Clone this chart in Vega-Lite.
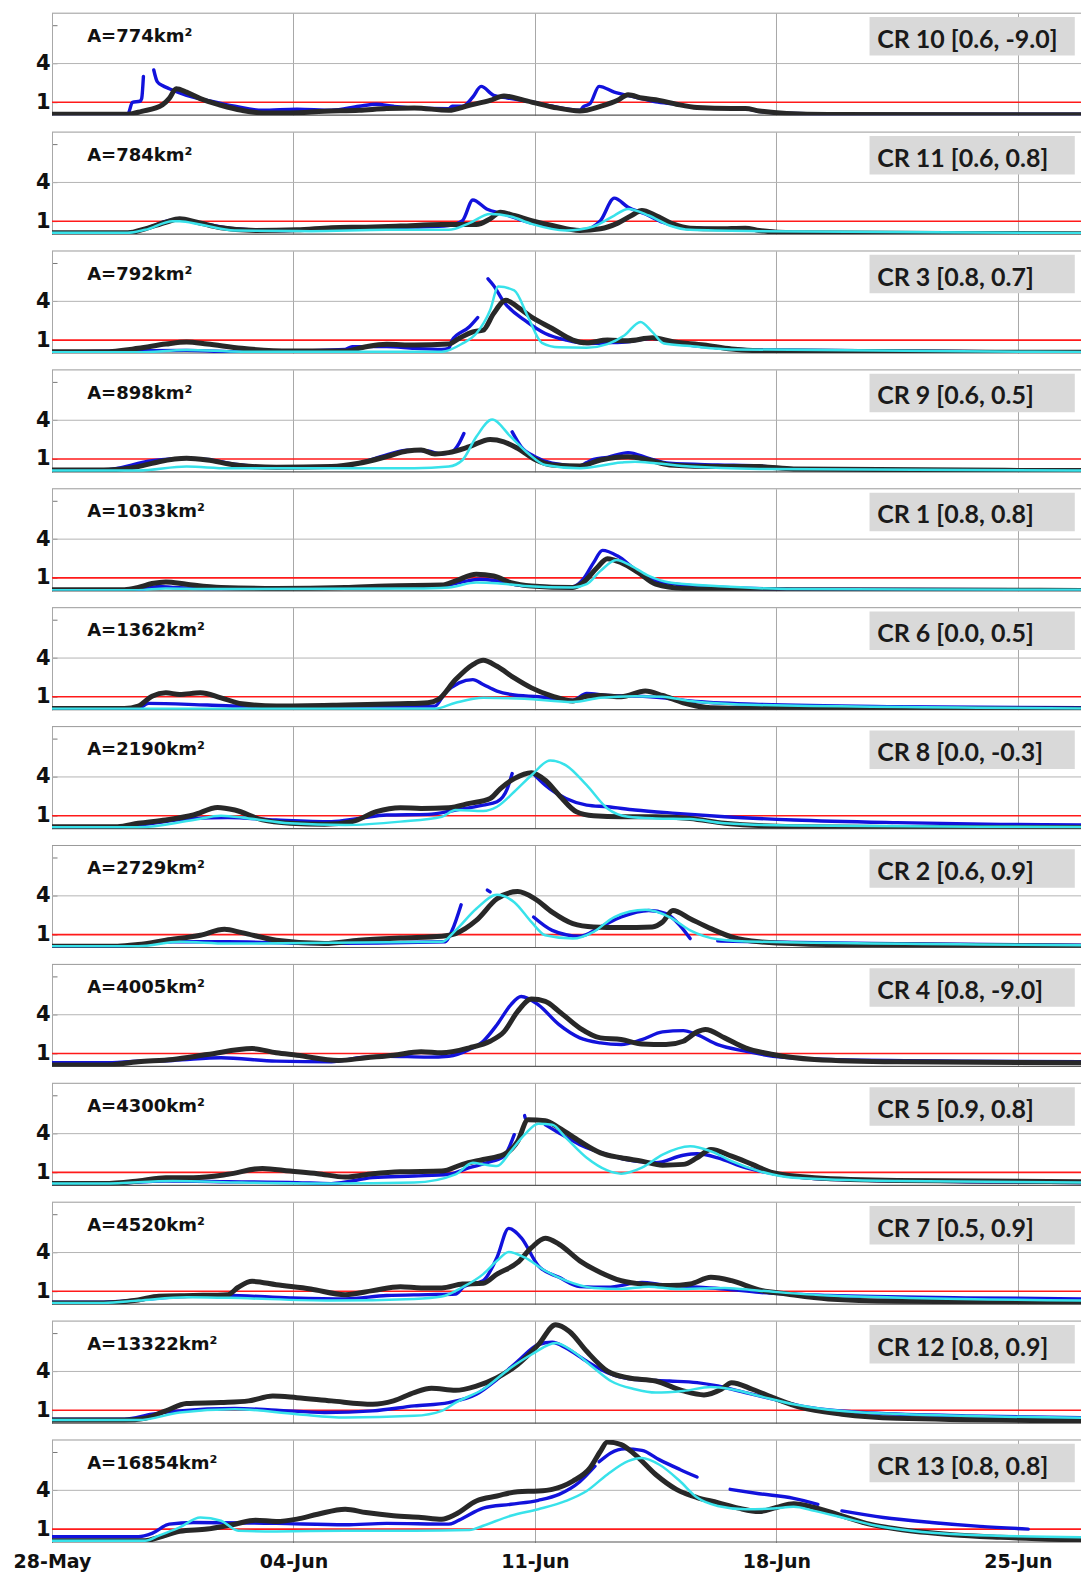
{
  "$schema": "https://vega.github.io/schema/vega-lite/v6.json",
  "background": "white",
  "bounds": "flush",
  "padding": {"left": 13, "top": 12.2, "right": 0, "bottom": 0},
  "data": {"values": [
    {"o":1,"a":"A=774km²","c":"CR 10 [0.6, -9.0]"},
    {"o":2,"a":"A=784km²","c":"CR 11 [0.6, 0.8]"},
    {"o":3,"a":"A=792km²","c":"CR 3 [0.8, 0.7]"},
    {"o":4,"a":"A=898km²","c":"CR 9 [0.6, 0.5]"},
    {"o":5,"a":"A=1033km²","c":"CR 1 [0.8, 0.8]"},
    {"o":6,"a":"A=1362km²","c":"CR 6 [0.0, 0.5]"},
    {"o":7,"a":"A=2190km²","c":"CR 8 [0.0, -0.3]"},
    {"o":8,"a":"A=2729km²","c":"CR 2 [0.6, 0.9]"},
    {"o":9,"a":"A=4005km²","c":"CR 4 [0.8, -9.0]"},
    {"o":10,"a":"A=4300km²","c":"CR 5 [0.9, 0.8]"},
    {"o":11,"a":"A=4520km²","c":"CR 7 [0.5, 0.9]"},
    {"o":12,"a":"A=13322km²","c":"CR 12 [0.8, 0.9]"},
    {"o":13,"a":"A=16854km²","c":"CR 13 [0.8, 0.8]"},

    {"o":1,"s":"k","d":0,"v":0.08},{"o":1,"s":"k","d":2.2,"v":0.08},{"o":1,"s":"k","d":2.6,"v":0.3},{"o":1,"s":"k","d":3.2,"v":0.8},{"o":1,"s":"k","d":3.4,"v":1.3},{"o":1,"s":"k","d":3.6,"v":2.05},{"o":1,"s":"k","d":3.9,"v":1.79},{"o":1,"s":"k","d":4.3,"v":1.28},{"o":1,"s":"k","d":4.9,"v":0.77},{"o":1,"s":"k","d":5.5,"v":0.38},{"o":1,"s":"k","d":6.1,"v":0.18},{"o":1,"s":"k","d":6.9,"v":0.18},{"o":1,"s":"k","d":7.9,"v":0.31},{"o":1,"s":"k","d":8.9,"v":0.38},{"o":1,"s":"k","d":9.7,"v":0.51},{"o":1,"s":"k","d":10.5,"v":0.56},{"o":1,"s":"k","d":11.5,"v":0.38},{"o":1,"s":"k","d":12.1,"v":0.77},{"o":1,"s":"k","d":12.7,"v":1.15},{"o":1,"s":"k","d":13.1,"v":1.49},{"o":1,"s":"k","d":13.7,"v":1.15},{"o":1,"s":"k","d":14.5,"v":0.64},{"o":1,"s":"k","d":15.3,"v":0.33},{"o":1,"s":"k","d":15.9,"v":0.69},{"o":1,"s":"k","d":16.4,"v":1.15},{"o":1,"s":"k","d":16.7,"v":1.59},{"o":1,"s":"k","d":17.1,"v":1.33},{"o":1,"s":"k","d":17.6,"v":1.15},{"o":1,"s":"k","d":18.1,"v":0.85},{"o":1,"s":"k","d":18.7,"v":0.59},{"o":1,"s":"k","d":19.7,"v":0.51},{"o":1,"s":"k","d":20.1,"v":0.51},{"o":1,"s":"k","d":20.5,"v":0.33},{"o":1,"s":"k","d":21.3,"v":0.13},{"o":1,"s":"k","d":22.5,"v":0.05},{"o":1,"s":"k","d":29.86,"v":0.03},
    {"o":1,"s":"b","d":0,"v":0.1},{"o":1,"s":"b","d":2.2,"v":0.1},{"o":1,"s":"b","d":2.33,"v":1.0},{"o":1,"s":"b","d":2.55,"v":1.08},{"o":1,"s":"b","d":2.6,"v":1.3},{"o":1,"s":"b","d":2.65,"v":3.0},
    {"o":1,"s":"b","g":2,"d":2.95,"v":3.5},{"o":1,"s":"b","g":2,"d":3.05,"v":2.6},{"o":1,"s":"b","g":2,"d":3.2,"v":2.3},{"o":1,"s":"b","g":2,"d":3.4,"v":2.05},{"o":1,"s":"b","g":2,"d":3.9,"v":1.54},{"o":1,"s":"b","g":2,"d":4.5,"v":1.15},{"o":1,"s":"b","g":2,"d":5.3,"v":0.69},{"o":1,"s":"b","g":2,"d":6.1,"v":0.38},{"o":1,"s":"b","g":2,"d":7.1,"v":0.46},{"o":1,"s":"b","g":2,"d":8.1,"v":0.38},{"o":1,"s":"b","g":2,"d":8.9,"v":0.69},{"o":1,"s":"b","g":2,"d":9.4,"v":0.85},{"o":1,"s":"b","g":2,"d":9.9,"v":0.69},{"o":1,"s":"b","g":2,"d":10.5,"v":0.56},{"o":1,"s":"b","g":2,"d":11.5,"v":0.51},{"o":1,"s":"b","g":2,"d":11.6,"v":0.69},{"o":1,"s":"b","g":2,"d":11.9,"v":0.69},{"o":1,"s":"b","g":2,"d":12.2,"v":1.41},{"o":1,"s":"b","g":2,"d":12.44,"v":2.23},{"o":1,"s":"b","g":2,"d":12.8,"v":1.54},{"o":1,"s":"b","g":2,"d":13.2,"v":1.33},{"o":1,"s":"b","g":2,"d":13.9,"v":1.03},{"o":1,"s":"b","g":2,"d":14.5,"v":0.69},{"o":1,"s":"b","g":2,"d":15.3,"v":0.38},{"o":1,"s":"b","g":2,"d":15.4,"v":0.64},{"o":1,"s":"b","g":2,"d":15.6,"v":0.9},{"o":1,"s":"b","g":2,"d":15.86,"v":2.23},{"o":1,"s":"b","g":2,"d":16.3,"v":1.79},{"o":1,"s":"b","g":2,"d":16.9,"v":1.41},{"o":1,"s":"b","g":2,"d":17.5,"v":1.03},{"o":1,"s":"b","g":2,"d":18.1,"v":0.85},{"o":1,"s":"b","g":2,"d":18.7,"v":0.59},{"o":1,"s":"b","g":2,"d":20.1,"v":0.51},{"o":1,"s":"b","g":2,"d":20.5,"v":0.31},{"o":1,"s":"b","g":2,"d":21.5,"v":0.13},{"o":1,"s":"b","g":2,"d":23,"v":0.08},{"o":1,"s":"b","g":2,"d":29.86,"v":0.08},

    {"o":2,"s":"k","d":0,"v":0.1},{"o":2,"s":"k","d":2.2,"v":0.1},{"o":2,"s":"k","d":2.7,"v":0.41},{"o":2,"s":"k","d":3.3,"v":0.92},{"o":2,"s":"k","d":3.7,"v":1.18},{"o":2,"s":"k","d":4.2,"v":0.92},{"o":2,"s":"k","d":4.9,"v":0.49},{"o":2,"s":"k","d":5.9,"v":0.28},{"o":2,"s":"k","d":7.1,"v":0.33},{"o":2,"s":"k","d":8.1,"v":0.49},{"o":2,"s":"k","d":9.1,"v":0.54},{"o":2,"s":"k","d":10.1,"v":0.62},{"o":2,"s":"k","d":11.3,"v":0.74},{"o":2,"s":"k","d":11.8,"v":0.74},{"o":2,"s":"k","d":12.3,"v":0.74},{"o":2,"s":"k","d":12.7,"v":1.18},{"o":2,"s":"k","d":13.0,"v":1.69},{"o":2,"s":"k","d":13.4,"v":1.44},{"o":2,"s":"k","d":13.9,"v":1.05},{"o":2,"s":"k","d":14.5,"v":0.67},{"o":2,"s":"k","d":15.3,"v":0.28},{"o":2,"s":"k","d":15.9,"v":0.41},{"o":2,"s":"k","d":16.4,"v":0.85},{"o":2,"s":"k","d":16.8,"v":1.44},{"o":2,"s":"k","d":17.1,"v":1.82},{"o":2,"s":"k","d":17.5,"v":1.44},{"o":2,"s":"k","d":18.0,"v":0.79},{"o":2,"s":"k","d":18.5,"v":0.46},{"o":2,"s":"k","d":19.3,"v":0.41},{"o":2,"s":"k","d":20.1,"v":0.46},{"o":2,"s":"k","d":20.5,"v":0.28},{"o":2,"s":"k","d":21.5,"v":0.1},{"o":2,"s":"k","d":29.86,"v":0.03},
    {"o":2,"s":"b","d":0,"v":0.1},{"o":2,"s":"b","d":2.2,"v":0.1},{"o":2,"s":"b","d":2.7,"v":0.41},{"o":2,"s":"b","d":3.4,"v":1.05},{"o":2,"s":"b","d":3.6,"v":1.13},{"o":2,"s":"b","d":4.3,"v":0.85},{"o":2,"s":"b","d":5.3,"v":0.41},{"o":2,"s":"b","d":6.5,"v":0.28},{"o":2,"s":"b","d":8.5,"v":0.41},{"o":2,"s":"b","d":10.5,"v":0.54},{"o":2,"s":"b","d":11.5,"v":0.67},{"o":2,"s":"b","d":11.9,"v":1.05},{"o":2,"s":"b","d":12.2,"v":2.64},{"o":2,"s":"b","d":12.6,"v":1.95},{"o":2,"s":"b","d":13.1,"v":1.56},{"o":2,"s":"b","d":13.7,"v":1.0},{"o":2,"s":"b","d":14.5,"v":0.54},{"o":2,"s":"b","d":15.4,"v":0.33},{"o":2,"s":"b","d":15.9,"v":1.05},{"o":2,"s":"b","d":16.3,"v":2.79},{"o":2,"s":"b","d":16.7,"v":2.08},{"o":2,"s":"b","d":17.2,"v":1.56},{"o":2,"s":"b","d":17.7,"v":0.92},{"o":2,"s":"b","d":18.3,"v":0.51},{"o":2,"s":"b","d":19.5,"v":0.41},{"o":2,"s":"b","d":20.5,"v":0.28},{"o":2,"s":"b","d":21.5,"v":0.1},{"o":2,"s":"b","d":29.86,"v":0.03},
    {"o":2,"s":"c","d":0,"v":0.1},{"o":2,"s":"c","d":2.2,"v":0.1},{"o":2,"s":"c","d":2.7,"v":0.33},{"o":2,"s":"c","d":3.5,"v":1.0},{"o":2,"s":"c","d":3.7,"v":1.0},{"o":2,"s":"c","d":4.3,"v":0.74},{"o":2,"s":"c","d":5.3,"v":0.28},{"o":2,"s":"c","d":7.5,"v":0.23},{"o":2,"s":"c","d":9.7,"v":0.33},{"o":2,"s":"c","d":11.5,"v":0.33},{"o":2,"s":"c","d":12.1,"v":0.85},{"o":2,"s":"c","d":12.7,"v":1.56},{"o":2,"s":"c","d":13.3,"v":1.36},{"o":2,"s":"c","d":13.9,"v":0.79},{"o":2,"s":"c","d":14.9,"v":0.28},{"o":2,"s":"c","d":15.7,"v":0.59},{"o":2,"s":"c","d":16.3,"v":1.44},{"o":2,"s":"c","d":16.7,"v":1.95},{"o":2,"s":"c","d":17.3,"v":1.44},{"o":2,"s":"c","d":17.9,"v":0.67},{"o":2,"s":"c","d":18.5,"v":0.33},{"o":2,"s":"c","d":20.5,"v":0.23},{"o":2,"s":"c","d":29.86,"v":0.08},

    {"o":3,"s":"k","d":0,"v":0.1},{"o":3,"s":"k","d":1.5,"v":0.1},{"o":3,"s":"k","d":2.5,"v":0.36},{"o":3,"s":"k","d":3.3,"v":0.69},{"o":3,"s":"k","d":3.9,"v":0.85},{"o":3,"s":"k","d":4.5,"v":0.69},{"o":3,"s":"k","d":5.5,"v":0.36},{"o":3,"s":"k","d":6.9,"v":0.15},{"o":3,"s":"k","d":8.5,"v":0.15},{"o":3,"s":"k","d":9.1,"v":0.49},{"o":3,"s":"k","d":9.7,"v":0.67},{"o":3,"s":"k","d":10.5,"v":0.62},{"o":3,"s":"k","d":11.5,"v":0.69},{"o":3,"s":"k","d":11.8,"v":1.13},{"o":3,"s":"k","d":12.2,"v":1.64},{"o":3,"s":"k","d":12.5,"v":1.77},{"o":3,"s":"k","d":12.8,"v":3.05},{"o":3,"s":"k","d":13.16,"v":4.08},{"o":3,"s":"k","d":13.5,"v":3.56},{"o":3,"s":"k","d":13.9,"v":2.79},{"o":3,"s":"k","d":14.5,"v":1.9},{"o":3,"s":"k","d":15.1,"v":1.0},{"o":3,"s":"k","d":15.5,"v":0.79},{"o":3,"s":"k","d":16.1,"v":1.0},{"o":3,"s":"k","d":16.7,"v":0.95},{"o":3,"s":"k","d":17.4,"v":1.18},{"o":3,"s":"k","d":18.0,"v":0.87},{"o":3,"s":"k","d":18.9,"v":0.62},{"o":3,"s":"k","d":19.7,"v":0.31},{"o":3,"s":"k","d":20.9,"v":0.15},{"o":3,"s":"k","d":29.86,"v":0.05},
    {"o":3,"s":"b","d":0,"v":0.05},{"o":3,"s":"b","d":3.9,"v":0.2},{"o":3,"s":"b","d":5.5,"v":0.08},{"o":3,"s":"b","d":8.5,"v":0.28},{"o":3,"s":"b","d":8.7,"v":0.49},{"o":3,"s":"b","d":9.7,"v":0.49},{"o":3,"s":"b","d":10.5,"v":0.36},{"o":3,"s":"b","d":11.3,"v":0.28},{"o":3,"s":"b","d":11.5,"v":0.36},{"o":3,"s":"b","d":11.6,"v":1.0},{"o":3,"s":"b","d":12.1,"v":2.03},{"o":3,"s":"b","d":12.34,"v":2.74},
    {"o":3,"s":"b","g":2,"d":12.64,"v":5.74},{"o":3,"s":"b","g":2,"d":12.8,"v":5.23},{"o":3,"s":"b","g":2,"d":13.1,"v":3.95},{"o":3,"s":"b","g":2,"d":13.7,"v":2.54},{"o":3,"s":"b","g":2,"d":14.3,"v":1.51},{"o":3,"s":"b","g":2,"d":14.9,"v":1.0},{"o":3,"s":"b","g":2,"d":15.5,"v":0.74},{"o":3,"s":"b","g":2,"d":16.1,"v":0.79},{"o":3,"s":"b","g":2,"d":16.7,"v":0.87},{"o":3,"s":"b","g":2,"d":17.4,"v":1.13},{"o":3,"s":"b","g":2,"d":18.0,"v":0.79},{"o":3,"s":"b","g":2,"d":18.9,"v":0.49},{"o":3,"s":"b","g":2,"d":20.5,"v":0.23},{"o":3,"s":"b","g":2,"d":29.86,"v":0.05},
    {"o":3,"s":"c","d":0,"v":0.05},{"o":3,"s":"c","d":2.5,"v":0.05},{"o":3,"s":"c","d":3.9,"v":0.23},{"o":3,"s":"c","d":5.5,"v":0.1},{"o":3,"s":"c","d":11.3,"v":0.1},{"o":3,"s":"c","d":11.9,"v":0.74},{"o":3,"s":"c","d":12.3,"v":1.51},{"o":3,"s":"c","d":12.7,"v":3.31},{"o":3,"s":"c","d":12.94,"v":5.15},{"o":3,"s":"c","d":13.4,"v":4.85},{"o":3,"s":"c","d":13.8,"v":2.79},{"o":3,"s":"c","d":14.2,"v":0.79},{"o":3,"s":"c","d":14.7,"v":0.44},{"o":3,"s":"c","d":15.5,"v":0.41},{"o":3,"s":"c","d":16.1,"v":0.69},{"o":3,"s":"c","d":16.6,"v":1.38},{"o":3,"s":"c","d":17.06,"v":2.41},{"o":3,"s":"c","d":17.4,"v":1.64},{"o":3,"s":"c","d":17.74,"v":0.74},{"o":3,"s":"c","d":18.5,"v":0.54},{"o":3,"s":"c","d":19.7,"v":0.28},{"o":3,"s":"c","d":29.86,"v":0.08},

    {"o":4,"s":"k","d":0,"v":0.15},{"o":4,"s":"k","d":1.5,"v":0.15},{"o":4,"s":"k","d":2.5,"v":0.41},{"o":4,"s":"k","d":3.1,"v":0.79},{"o":4,"s":"k","d":3.9,"v":1.05},{"o":4,"s":"k","d":4.5,"v":0.92},{"o":4,"s":"k","d":5.3,"v":0.54},{"o":4,"s":"k","d":6.5,"v":0.36},{"o":4,"s":"k","d":8.1,"v":0.41},{"o":4,"s":"k","d":8.9,"v":0.67},{"o":4,"s":"k","d":9.7,"v":1.18},{"o":4,"s":"k","d":10.3,"v":1.62},{"o":4,"s":"k","d":10.7,"v":1.69},{"o":4,"s":"k","d":11.1,"v":1.38},{"o":4,"s":"k","d":11.5,"v":1.49},{"o":4,"s":"k","d":12.1,"v":1.95},{"o":4,"s":"k","d":12.7,"v":2.51},{"o":4,"s":"k","d":13.1,"v":2.33},{"o":4,"s":"k","d":13.5,"v":1.82},{"o":4,"s":"k","d":14.0,"v":0.97},{"o":4,"s":"k","d":14.5,"v":0.54},{"o":4,"s":"k","d":15.3,"v":0.46},{"o":4,"s":"k","d":15.9,"v":0.92},{"o":4,"s":"k","d":16.7,"v":1.18},{"o":4,"s":"k","d":17.3,"v":0.92},{"o":4,"s":"k","d":17.9,"v":0.54},{"o":4,"s":"k","d":19.3,"v":0.41},{"o":4,"s":"k","d":20.5,"v":0.41},{"o":4,"s":"k","d":21.5,"v":0.23},{"o":4,"s":"k","d":29.86,"v":0.1},
    {"o":4,"s":"b","d":0,"v":0.15},{"o":4,"s":"b","d":1.5,"v":0.15},{"o":4,"s":"b","d":2.9,"v":0.87},{"o":4,"s":"b","d":3.9,"v":1.05},{"o":4,"s":"b","d":4.5,"v":0.97},{"o":4,"s":"b","d":5.3,"v":0.59},{"o":4,"s":"b","d":6.5,"v":0.36},{"o":4,"s":"b","d":8.1,"v":0.36},{"o":4,"s":"b","d":8.9,"v":0.67},{"o":4,"s":"b","d":9.7,"v":1.31},{"o":4,"s":"b","d":10.3,"v":1.69},{"o":4,"s":"b","d":10.9,"v":1.62},{"o":4,"s":"b","d":11.3,"v":1.38},{"o":4,"s":"b","d":11.6,"v":1.56},{"o":4,"s":"b","d":11.8,"v":2.21},{"o":4,"s":"b","d":11.94,"v":2.97},
    {"o":4,"s":"b","g":2,"d":13.34,"v":3.1},{"o":4,"s":"b","g":2,"d":13.6,"v":1.95},{"o":4,"s":"b","g":2,"d":14.0,"v":1.18},{"o":4,"s":"b","g":2,"d":14.5,"v":0.67},{"o":4,"s":"b","g":2,"d":15.3,"v":0.46},{"o":4,"s":"b","g":2,"d":15.5,"v":0.72},{"o":4,"s":"b","g":2,"d":15.7,"v":0.97},{"o":4,"s":"b","g":2,"d":16.1,"v":1.13},{"o":4,"s":"b","g":2,"d":16.7,"v":1.49},{"o":4,"s":"b","g":2,"d":17.3,"v":1.05},{"o":4,"s":"b","g":2,"d":17.9,"v":0.67},{"o":4,"s":"b","g":2,"d":19.3,"v":0.54},{"o":4,"s":"b","g":2,"d":20.5,"v":0.46},{"o":4,"s":"b","g":2,"d":21.5,"v":0.23},{"o":4,"s":"b","g":2,"d":29.86,"v":0.1},
    {"o":4,"s":"c","d":0,"v":0.1},{"o":4,"s":"c","d":2.5,"v":0.1},{"o":4,"s":"c","d":3.9,"v":0.41},{"o":4,"s":"c","d":5.1,"v":0.28},{"o":4,"s":"c","d":10.5,"v":0.28},{"o":4,"s":"c","d":11.5,"v":0.41},{"o":4,"s":"c","d":11.9,"v":0.92},{"o":4,"s":"c","d":12.3,"v":2.72},{"o":4,"s":"c","d":12.76,"v":4.05},{"o":4,"s":"c","d":13.3,"v":2.72},{"o":4,"s":"c","d":13.8,"v":1.44},{"o":4,"s":"c","d":14.3,"v":0.54},{"o":4,"s":"c","d":15.3,"v":0.28},{"o":4,"s":"c","d":16.5,"v":0.72},{"o":4,"s":"c","d":16.9,"v":0.79},{"o":4,"s":"c","d":17.5,"v":0.67},{"o":4,"s":"c","d":18.5,"v":0.41},{"o":4,"s":"c","d":20.5,"v":0.23},{"o":4,"s":"c","d":29.86,"v":0.1},

    {"o":5,"s":"k","d":0,"v":0.08},{"o":5,"s":"k","d":2.1,"v":0.08},{"o":5,"s":"k","d":2.5,"v":0.26},{"o":5,"s":"k","d":2.9,"v":0.56},{"o":5,"s":"k","d":3.3,"v":0.69},{"o":5,"s":"k","d":3.9,"v":0.51},{"o":5,"s":"k","d":4.9,"v":0.26},{"o":5,"s":"k","d":6.5,"v":0.18},{"o":5,"s":"k","d":8.5,"v":0.26},{"o":5,"s":"k","d":9.7,"v":0.38},{"o":5,"s":"k","d":11.3,"v":0.44},{"o":5,"s":"k","d":11.7,"v":0.77},{"o":5,"s":"k","d":12.3,"v":1.28},{"o":5,"s":"k","d":12.8,"v":1.15},{"o":5,"s":"k","d":13.3,"v":0.64},{"o":5,"s":"k","d":13.9,"v":0.38},{"o":5,"s":"k","d":15.1,"v":0.26},{"o":5,"s":"k","d":15.4,"v":0.64},{"o":5,"s":"k","d":15.8,"v":1.79},{"o":5,"s":"k","d":16.1,"v":2.49},{"o":5,"s":"k","d":16.5,"v":2.18},{"o":5,"s":"k","d":17.0,"v":1.41},{"o":5,"s":"k","d":17.5,"v":0.51},{"o":5,"s":"k","d":18.3,"v":0.18},{"o":5,"s":"k","d":20.5,"v":0.08},{"o":5,"s":"k","d":29.86,"v":0.03},
    {"o":5,"s":"b","d":0,"v":0.08},{"o":5,"s":"b","d":2.5,"v":0.08},{"o":5,"s":"b","d":3.1,"v":0.33},{"o":5,"s":"b","d":3.5,"v":0.26},{"o":5,"s":"b","d":4.5,"v":0.18},{"o":5,"s":"b","d":9.7,"v":0.26},{"o":5,"s":"b","d":11.3,"v":0.38},{"o":5,"s":"b","d":11.9,"v":0.69},{"o":5,"s":"b","d":12.4,"v":0.9},{"o":5,"s":"b","d":12.9,"v":0.77},{"o":5,"s":"b","d":13.7,"v":0.38},{"o":5,"s":"b","d":15.1,"v":0.31},{"o":5,"s":"b","d":15.4,"v":0.9},{"o":5,"s":"b","d":15.7,"v":2.18},{"o":5,"s":"b","d":15.96,"v":3.13},{"o":5,"s":"b","d":16.4,"v":2.69},{"o":5,"s":"b","d":16.9,"v":1.67},{"o":5,"s":"b","d":17.4,"v":0.85},{"o":5,"s":"b","d":18.1,"v":0.51},{"o":5,"s":"b","d":19.5,"v":0.26},{"o":5,"s":"b","d":21.5,"v":0.13},{"o":5,"s":"b","d":29.86,"v":0.08},
    {"o":5,"s":"c","d":0,"v":0.05},{"o":5,"s":"c","d":2.5,"v":0.05},{"o":5,"s":"c","d":3.3,"v":0.18},{"o":5,"s":"c","d":4.5,"v":0.13},{"o":5,"s":"c","d":10.5,"v":0.18},{"o":5,"s":"c","d":11.5,"v":0.26},{"o":5,"s":"c","d":12.3,"v":0.64},{"o":5,"s":"c","d":12.9,"v":0.59},{"o":5,"s":"c","d":13.7,"v":0.38},{"o":5,"s":"c","d":15.1,"v":0.26},{"o":5,"s":"c","d":15.5,"v":0.51},{"o":5,"s":"c","d":15.9,"v":1.54},{"o":5,"s":"c","d":16.36,"v":2.38},{"o":5,"s":"c","d":16.8,"v":1.92},{"o":5,"s":"c","d":17.3,"v":1.15},{"o":5,"s":"c","d":17.9,"v":0.64},{"o":5,"s":"c","d":19.5,"v":0.33},{"o":5,"s":"c","d":21.5,"v":0.13},{"o":5,"s":"c","d":29.86,"v":0.08},

    {"o":6,"s":"k","d":0,"v":0.1},{"o":6,"s":"k","d":2.1,"v":0.1},{"o":6,"s":"k","d":2.5,"v":0.28},{"o":6,"s":"k","d":2.9,"v":1.05},{"o":6,"s":"k","d":3.3,"v":1.31},{"o":6,"s":"k","d":3.7,"v":1.18},{"o":6,"s":"k","d":4.3,"v":1.31},{"o":6,"s":"k","d":4.9,"v":0.92},{"o":6,"s":"k","d":5.5,"v":0.46},{"o":6,"s":"k","d":6.5,"v":0.28},{"o":6,"s":"k","d":8.5,"v":0.36},{"o":6,"s":"k","d":10.1,"v":0.46},{"o":6,"s":"k","d":10.9,"v":0.54},{"o":6,"s":"k","d":11.2,"v":0.79},{"o":6,"s":"k","d":11.7,"v":2.33},{"o":6,"s":"k","d":12.2,"v":3.49},{"o":6,"s":"k","d":12.5,"v":3.82},{"o":6,"s":"k","d":12.9,"v":3.36},{"o":6,"s":"k","d":13.4,"v":2.46},{"o":6,"s":"k","d":13.9,"v":1.69},{"o":6,"s":"k","d":14.5,"v":1.05},{"o":6,"s":"k","d":15.1,"v":0.67},{"o":6,"s":"k","d":15.5,"v":1.05},{"o":6,"s":"k","d":15.9,"v":1.1},{"o":6,"s":"k","d":16.5,"v":1.0},{"o":6,"s":"k","d":17.2,"v":1.44},{"o":6,"s":"k","d":17.7,"v":1.1},{"o":6,"s":"k","d":18.3,"v":0.54},{"o":6,"s":"k","d":19.1,"v":0.15},{"o":6,"s":"k","d":20.5,"v":0.1},{"o":6,"s":"k","d":29.86,"v":0.05},
    {"o":6,"s":"b","d":0,"v":0.1},{"o":6,"s":"b","d":2.5,"v":0.1},{"o":6,"s":"b","d":2.8,"v":0.49},{"o":6,"s":"b","d":4.5,"v":0.36},{"o":6,"s":"b","d":5.5,"v":0.28},{"o":6,"s":"b","d":11.1,"v":0.28},{"o":6,"s":"b","d":11.4,"v":1.31},{"o":6,"s":"b","d":11.8,"v":2.08},{"o":6,"s":"b","d":12.2,"v":2.33},{"o":6,"s":"b","d":12.5,"v":1.95},{"o":6,"s":"b","d":12.9,"v":1.44},{"o":6,"s":"b","d":13.3,"v":1.18},{"o":6,"s":"b","d":14.1,"v":1.0},{"o":6,"s":"b","d":15.1,"v":0.74},{"o":6,"s":"b","d":15.5,"v":1.26},{"o":6,"s":"b","d":16.1,"v":1.1},{"o":6,"s":"b","d":16.9,"v":1.05},{"o":6,"s":"b","d":17.7,"v":0.92},{"o":6,"s":"b","d":18.5,"v":0.67},{"o":6,"s":"b","d":20.5,"v":0.41},{"o":6,"s":"b","d":24.5,"v":0.23},{"o":6,"s":"b","d":29.86,"v":0.15},
    {"o":6,"s":"c","d":0,"v":0.08},{"o":6,"s":"c","d":11.1,"v":0.08},{"o":6,"s":"c","d":11.7,"v":0.54},{"o":6,"s":"c","d":12.5,"v":0.92},{"o":6,"s":"c","d":13.7,"v":0.85},{"o":6,"s":"c","d":15.1,"v":0.59},{"o":6,"s":"c","d":15.9,"v":0.92},{"o":6,"s":"c","d":16.9,"v":1.05},{"o":6,"s":"c","d":17.7,"v":1.0},{"o":6,"s":"c","d":18.5,"v":0.67},{"o":6,"s":"c","d":20.5,"v":0.36},{"o":6,"s":"c","d":29.86,"v":0.1},

    {"o":7,"s":"k","d":0,"v":0.15},{"o":7,"s":"k","d":1.9,"v":0.15},{"o":7,"s":"k","d":2.5,"v":0.41},{"o":7,"s":"k","d":3.3,"v":0.67},{"o":7,"s":"k","d":4.1,"v":1.05},{"o":7,"s":"k","d":4.8,"v":1.64},{"o":7,"s":"k","d":5.3,"v":1.44},{"o":7,"s":"k","d":6.1,"v":0.67},{"o":7,"s":"k","d":6.9,"v":0.41},{"o":7,"s":"k","d":7.9,"v":0.33},{"o":7,"s":"k","d":8.7,"v":0.54},{"o":7,"s":"k","d":9.4,"v":1.31},{"o":7,"s":"k","d":10.1,"v":1.62},{"o":7,"s":"k","d":10.7,"v":1.56},{"o":7,"s":"k","d":11.5,"v":1.62},{"o":7,"s":"k","d":12.1,"v":1.95},{"o":7,"s":"k","d":12.7,"v":2.33},{"o":7,"s":"k","d":13.0,"v":3.1},{"o":7,"s":"k","d":13.4,"v":3.87},{"o":7,"s":"k","d":13.9,"v":4.33},{"o":7,"s":"k","d":14.3,"v":3.74},{"o":7,"s":"k","d":14.7,"v":2.59},{"o":7,"s":"k","d":15.2,"v":1.31},{"o":7,"s":"k","d":15.7,"v":1.0},{"o":7,"s":"k","d":16.5,"v":0.92},{"o":7,"s":"k","d":17.5,"v":0.92},{"o":7,"s":"k","d":18.5,"v":0.79},{"o":7,"s":"k","d":19.5,"v":0.41},{"o":7,"s":"k","d":21.5,"v":0.15},{"o":7,"s":"k","d":24.5,"v":0.08},{"o":7,"s":"k","d":29.86,"v":0.08},
    {"o":7,"s":"b","d":0,"v":0.15},{"o":7,"s":"b","d":1.9,"v":0.15},{"o":7,"s":"b","d":2.5,"v":0.28},{"o":7,"s":"b","d":4.1,"v":0.79},{"o":7,"s":"b","d":5.1,"v":0.85},{"o":7,"s":"b","d":6.5,"v":0.67},{"o":7,"s":"b","d":8.1,"v":0.54},{"o":7,"s":"b","d":8.9,"v":0.79},{"o":7,"s":"b","d":9.7,"v":1.05},{"o":7,"s":"b","d":10.9,"v":1.1},{"o":7,"s":"b","d":11.7,"v":1.44},{"o":7,"s":"b","d":12.5,"v":1.82},{"o":7,"s":"b","d":12.9,"v":2.08},{"o":7,"s":"b","d":13.2,"v":3.1},{"o":7,"s":"b","d":13.34,"v":4.26},
    {"o":7,"s":"b","g":2,"d":14.0,"v":4.13},{"o":7,"s":"b","g":2,"d":14.3,"v":3.36},{"o":7,"s":"b","g":2,"d":14.9,"v":2.33},{"o":7,"s":"b","g":2,"d":15.5,"v":1.82},{"o":7,"s":"b","g":2,"d":16.1,"v":1.69},{"o":7,"s":"b","g":2,"d":16.9,"v":1.44},{"o":7,"s":"b","g":2,"d":18.1,"v":1.18},{"o":7,"s":"b","g":2,"d":19.5,"v":0.92},{"o":7,"s":"b","g":2,"d":21.5,"v":0.67},{"o":7,"s":"b","g":2,"d":24.5,"v":0.46},{"o":7,"s":"b","g":2,"d":27.5,"v":0.33},{"o":7,"s":"b","g":2,"d":29.86,"v":0.28},
    {"o":7,"s":"c","d":0,"v":0.1},{"o":7,"s":"c","d":2.5,"v":0.1},{"o":7,"s":"c","d":4.1,"v":0.67},{"o":7,"s":"c","d":4.9,"v":1.0},{"o":7,"s":"c","d":5.7,"v":0.79},{"o":7,"s":"c","d":6.9,"v":0.41},{"o":7,"s":"c","d":8.5,"v":0.28},{"o":7,"s":"c","d":10.1,"v":0.54},{"o":7,"s":"c","d":11.3,"v":0.92},{"o":7,"s":"c","d":11.7,"v":1.44},{"o":7,"s":"c","d":12.5,"v":1.36},{"o":7,"s":"c","d":12.9,"v":1.69},{"o":7,"s":"c","d":13.4,"v":2.85},{"o":7,"s":"c","d":13.9,"v":4.13},{"o":7,"s":"c","d":14.44,"v":5.28},{"o":7,"s":"c","d":14.9,"v":4.9},{"o":7,"s":"c","d":15.5,"v":3.36},{"o":7,"s":"c","d":16.1,"v":1.56},{"o":7,"s":"c","d":16.7,"v":0.92},{"o":7,"s":"c","d":17.5,"v":0.79},{"o":7,"s":"c","d":18.5,"v":0.74},{"o":7,"s":"c","d":19.5,"v":0.41},{"o":7,"s":"c","d":21.5,"v":0.23},{"o":7,"s":"c","d":29.86,"v":0.13},

    {"o":8,"s":"k","d":0,"v":0.1},{"o":8,"s":"k","d":1.9,"v":0.1},{"o":8,"s":"k","d":2.5,"v":0.23},{"o":8,"s":"k","d":3.3,"v":0.56},{"o":8,"s":"k","d":4.3,"v":0.95},{"o":8,"s":"k","d":5.0,"v":1.41},{"o":8,"s":"k","d":5.5,"v":1.15},{"o":8,"s":"k","d":6.5,"v":0.56},{"o":8,"s":"k","d":7.9,"v":0.31},{"o":8,"s":"k","d":8.9,"v":0.56},{"o":8,"s":"k","d":10.1,"v":0.74},{"o":8,"s":"k","d":11.3,"v":0.87},{"o":8,"s":"k","d":11.7,"v":1.08},{"o":8,"s":"k","d":12.3,"v":2.1},{"o":8,"s":"k","d":12.9,"v":3.77},{"o":8,"s":"k","d":13.5,"v":4.33},{"o":8,"s":"k","d":14.0,"v":3.77},{"o":8,"s":"k","d":14.5,"v":2.74},{"o":8,"s":"k","d":15.1,"v":1.85},{"o":8,"s":"k","d":15.7,"v":1.59},{"o":8,"s":"k","d":16.5,"v":1.54},{"o":8,"s":"k","d":17.4,"v":1.59},{"o":8,"s":"k","d":17.7,"v":1.97},{"o":8,"s":"k","d":18.0,"v":2.87},{"o":8,"s":"k","d":18.5,"v":2.23},{"o":8,"s":"k","d":19.1,"v":1.46},{"o":8,"s":"k","d":19.7,"v":0.82},{"o":8,"s":"k","d":20.5,"v":0.44},{"o":8,"s":"k","d":22.5,"v":0.23},{"o":8,"s":"k","d":29.86,"v":0.1},
    {"o":8,"s":"b","d":0,"v":0.1},{"o":8,"s":"b","d":1.9,"v":0.1},{"o":8,"s":"b","d":3.5,"v":0.44},{"o":8,"s":"b","d":5.1,"v":0.44},{"o":8,"s":"b","d":7.5,"v":0.31},{"o":8,"s":"b","d":11.4,"v":0.44},{"o":8,"s":"b","d":11.6,"v":1.33},{"o":8,"s":"b","d":11.86,"v":3.31},
    {"o":8,"s":"b","g":2,"d":12.62,"v":4.45},{"o":8,"s":"b","g":2,"d":12.7,"v":4.3},
    {"o":8,"s":"b","g":3,"d":13.96,"v":2.36},{"o":8,"s":"b","g":3,"d":14.5,"v":1.33},{"o":8,"s":"b","g":3,"d":15.3,"v":0.87},{"o":8,"s":"b","g":3,"d":15.9,"v":1.59},{"o":8,"s":"b","g":3,"d":16.5,"v":2.36},{"o":8,"s":"b","g":3,"d":17.3,"v":2.87},{"o":8,"s":"b","g":3,"d":17.8,"v":2.62},{"o":8,"s":"b","g":3,"d":18.2,"v":1.72},{"o":8,"s":"b","g":3,"d":18.5,"v":0.69},
    {"o":8,"s":"b","g":4,"d":19.3,"v":0.51},{"o":8,"s":"b","g":4,"d":20.5,"v":0.44},{"o":8,"s":"b","g":4,"d":24.5,"v":0.3},{"o":8,"s":"b","g":4,"d":29.86,"v":0.18},
    {"o":8,"s":"c","d":0,"v":0.1},{"o":8,"s":"c","d":2.5,"v":0.1},{"o":8,"s":"c","d":3.7,"v":0.44},{"o":8,"s":"c","d":5.1,"v":0.31},{"o":8,"s":"c","d":11.3,"v":0.44},{"o":8,"s":"c","d":11.7,"v":1.33},{"o":8,"s":"c","d":12.3,"v":3.0},{"o":8,"s":"c","d":12.9,"v":4.08},{"o":8,"s":"c","d":13.4,"v":3.51},{"o":8,"s":"c","d":13.9,"v":1.97},{"o":8,"s":"c","d":14.3,"v":0.95},{"o":8,"s":"c","d":15.1,"v":0.69},{"o":8,"s":"c","d":15.7,"v":1.21},{"o":8,"s":"c","d":16.3,"v":2.36},{"o":8,"s":"c","d":17.2,"v":2.92},{"o":8,"s":"c","d":17.9,"v":2.36},{"o":8,"s":"c","d":18.5,"v":1.33},{"o":8,"s":"c","d":19.3,"v":0.64},{"o":8,"s":"c","d":20.5,"v":0.44},{"o":8,"s":"c","d":29.86,"v":0.18},

    {"o":9,"s":"k","d":0,"v":0.1},{"o":9,"s":"k","d":1.5,"v":0.1},{"o":9,"s":"k","d":2.5,"v":0.36},{"o":9,"s":"k","d":3.5,"v":0.54},{"o":9,"s":"k","d":4.5,"v":0.92},{"o":9,"s":"k","d":5.8,"v":1.38},{"o":9,"s":"k","d":6.5,"v":1.05},{"o":9,"s":"k","d":7.1,"v":0.87},{"o":9,"s":"k","d":8.3,"v":0.46},{"o":9,"s":"k","d":9.1,"v":0.67},{"o":9,"s":"k","d":9.9,"v":0.87},{"o":9,"s":"k","d":10.7,"v":1.13},{"o":9,"s":"k","d":11.3,"v":1.05},{"o":9,"s":"k","d":12.1,"v":1.44},{"o":9,"s":"k","d":12.7,"v":1.95},{"o":9,"s":"k","d":13.1,"v":2.67},{"o":9,"s":"k","d":13.5,"v":4.26},{"o":9,"s":"k","d":13.9,"v":5.21},{"o":9,"s":"k","d":14.3,"v":5.03},{"o":9,"s":"k","d":14.7,"v":4.26},{"o":9,"s":"k","d":15.3,"v":2.97},{"o":9,"s":"k","d":15.9,"v":2.21},{"o":9,"s":"k","d":16.5,"v":2.08},{"o":9,"s":"k","d":17.1,"v":1.74},{"o":9,"s":"k","d":17.8,"v":1.69},{"o":9,"s":"k","d":18.3,"v":1.95},{"o":9,"s":"k","d":18.7,"v":2.67},{"o":9,"s":"k","d":18.94,"v":2.85},{"o":9,"s":"k","d":19.5,"v":2.21},{"o":9,"s":"k","d":20.1,"v":1.44},{"o":9,"s":"k","d":20.9,"v":0.92},{"o":9,"s":"k","d":22.1,"v":0.54},{"o":9,"s":"k","d":24.5,"v":0.36},{"o":9,"s":"k","d":29.86,"v":0.28},
    {"o":9,"s":"b","d":0,"v":0.28},{"o":9,"s":"b","d":1.5,"v":0.28},{"o":9,"s":"b","d":2.5,"v":0.41},{"o":9,"s":"b","d":3.5,"v":0.46},{"o":9,"s":"b","d":4.9,"v":0.67},{"o":9,"s":"b","d":6.5,"v":0.41},{"o":9,"s":"b","d":8.1,"v":0.36},{"o":9,"s":"b","d":8.9,"v":0.67},{"o":9,"s":"b","d":9.7,"v":0.79},{"o":9,"s":"b","d":10.9,"v":0.72},{"o":9,"s":"b","d":11.5,"v":0.79},{"o":9,"s":"b","d":12.1,"v":1.31},{"o":9,"s":"b","d":12.5,"v":1.95},{"o":9,"s":"b","d":12.9,"v":3.23},{"o":9,"s":"b","d":13.3,"v":4.77},{"o":9,"s":"b","d":13.6,"v":5.41},{"o":9,"s":"b","d":14.1,"v":4.77},{"o":9,"s":"b","d":14.7,"v":3.23},{"o":9,"s":"b","d":15.3,"v":2.21},{"o":9,"s":"b","d":15.9,"v":1.82},{"o":9,"s":"b","d":16.5,"v":1.69},{"o":9,"s":"b","d":17.1,"v":2.08},{"o":9,"s":"b","d":17.7,"v":2.67},{"o":9,"s":"b","d":18.3,"v":2.77},{"o":9,"s":"b","d":18.7,"v":2.46},{"o":9,"s":"b","d":19.3,"v":1.69},{"o":9,"s":"b","d":20.1,"v":1.18},{"o":9,"s":"b","d":20.9,"v":0.79},{"o":9,"s":"b","d":22.5,"v":0.54},{"o":9,"s":"b","d":26.5,"v":0.41},{"o":9,"s":"b","d":29.86,"v":0.36},

    {"o":10,"s":"k","d":0,"v":0.13},{"o":10,"s":"k","d":1.5,"v":0.13},{"o":10,"s":"k","d":2.5,"v":0.33},{"o":10,"s":"k","d":3.3,"v":0.59},{"o":10,"s":"k","d":4.1,"v":0.59},{"o":10,"s":"k","d":5.1,"v":0.85},{"o":10,"s":"k","d":6.1,"v":1.31},{"o":10,"s":"k","d":6.9,"v":1.1},{"o":10,"s":"k","d":7.7,"v":0.9},{"o":10,"s":"k","d":8.5,"v":0.64},{"o":10,"s":"k","d":9.3,"v":0.9},{"o":10,"s":"k","d":10.1,"v":1.05},{"o":10,"s":"k","d":11.3,"v":1.1},{"o":10,"s":"k","d":11.9,"v":1.62},{"o":10,"s":"k","d":12.5,"v":2.0},{"o":10,"s":"k","d":13.1,"v":2.38},{"o":10,"s":"k","d":13.5,"v":3.41},{"o":10,"s":"k","d":13.8,"v":5.08},{"o":10,"s":"k","d":14.3,"v":5.0},{"o":10,"s":"k","d":14.7,"v":4.44},{"o":10,"s":"k","d":15.3,"v":3.41},{"o":10,"s":"k","d":15.9,"v":2.51},{"o":10,"s":"k","d":16.5,"v":2.13},{"o":10,"s":"k","d":17.1,"v":1.87},{"o":10,"s":"k","d":17.7,"v":1.56},{"o":10,"s":"k","d":18.3,"v":1.62},{"o":10,"s":"k","d":18.7,"v":2.13},{"o":10,"s":"k","d":19.1,"v":2.77},{"o":10,"s":"k","d":19.7,"v":2.26},{"o":10,"s":"k","d":20.3,"v":1.62},{"o":10,"s":"k","d":20.9,"v":0.97},{"o":10,"s":"k","d":22.1,"v":0.59},{"o":10,"s":"k","d":24.5,"v":0.38},{"o":10,"s":"k","d":29.86,"v":0.28},
    {"o":10,"s":"b","d":0,"v":0.13},{"o":10,"s":"b","d":1.5,"v":0.13},{"o":10,"s":"b","d":3.3,"v":0.33},{"o":10,"s":"b","d":5.1,"v":0.28},{"o":10,"s":"b","d":7.1,"v":0.21},{"o":10,"s":"b","d":8.1,"v":0.13},{"o":10,"s":"b","d":9.3,"v":0.59},{"o":10,"s":"b","d":10.5,"v":0.72},{"o":10,"s":"b","d":11.5,"v":0.85},{"o":10,"s":"b","d":12.1,"v":1.36},{"o":10,"s":"b","d":12.6,"v":1.74},{"o":10,"s":"b","d":13.1,"v":2.26},{"o":10,"s":"b","d":13.4,"v":3.92},
    {"o":10,"s":"b","g":2,"d":13.7,"v":5.4},{"o":10,"s":"b","g":2,"d":13.72,"v":5.2},
    {"o":10,"s":"b","g":3,"d":14.3,"v":4.69},{"o":10,"s":"b","g":3,"d":14.7,"v":4.05},{"o":10,"s":"b","g":3,"d":15.3,"v":3.15},{"o":10,"s":"b","g":3,"d":16.1,"v":2.38},{"o":10,"s":"b","g":3,"d":16.9,"v":1.87},{"o":10,"s":"b","g":3,"d":17.5,"v":1.74},{"o":10,"s":"b","g":3,"d":18.3,"v":2.33},{"o":10,"s":"b","g":3,"d":18.7,"v":2.44},{"o":10,"s":"b","g":3,"d":19.3,"v":2.13},{"o":10,"s":"b","g":3,"d":20.1,"v":1.36},{"o":10,"s":"b","g":3,"d":20.9,"v":0.9},{"o":10,"s":"b","g":3,"d":22.5,"v":0.46},{"o":10,"s":"b","g":3,"d":26.5,"v":0.28},{"o":10,"s":"b","g":3,"d":29.86,"v":0.21},
    {"o":10,"s":"c","d":0,"v":0.13},{"o":10,"s":"c","d":1.5,"v":0.13},{"o":10,"s":"c","d":3.5,"v":0.33},{"o":10,"s":"c","d":5.5,"v":0.21},{"o":10,"s":"c","d":8.1,"v":0.13},{"o":10,"s":"c","d":10.5,"v":0.21},{"o":10,"s":"c","d":11.7,"v":0.85},{"o":10,"s":"c","d":12.2,"v":1.74},{"o":10,"s":"c","d":12.5,"v":1.62},{"o":10,"s":"c","d":12.9,"v":1.49},{"o":10,"s":"c","d":13.3,"v":2.64},{"o":10,"s":"c","d":13.7,"v":3.92},{"o":10,"s":"c","d":14.1,"v":4.77},{"o":10,"s":"c","d":14.5,"v":4.69},{"o":10,"s":"c","d":14.9,"v":3.67},{"o":10,"s":"c","d":15.5,"v":2.13},{"o":10,"s":"c","d":16.1,"v":1.15},{"o":10,"s":"c","d":16.5,"v":0.9},{"o":10,"s":"c","d":17.1,"v":1.36},{"o":10,"s":"c","d":17.7,"v":2.38},{"o":10,"s":"c","d":18.5,"v":3.03},{"o":10,"s":"c","d":19.1,"v":2.64},{"o":10,"s":"c","d":19.7,"v":1.87},{"o":10,"s":"c","d":20.5,"v":1.1},{"o":10,"s":"c","d":21.5,"v":0.59},{"o":10,"s":"c","d":24.5,"v":0.33},{"o":10,"s":"c","d":29.86,"v":0.21},

    {"o":11,"s":"k","d":0,"v":0.1},{"o":11,"s":"k","d":1.5,"v":0.1},{"o":11,"s":"k","d":2.5,"v":0.33},{"o":11,"s":"k","d":3.1,"v":0.62},{"o":11,"s":"k","d":4.1,"v":0.67},{"o":11,"s":"k","d":5.1,"v":0.74},{"o":11,"s":"k","d":5.4,"v":1.31},{"o":11,"s":"k","d":5.8,"v":1.77},{"o":11,"s":"k","d":6.5,"v":1.51},{"o":11,"s":"k","d":7.5,"v":1.18},{"o":11,"s":"k","d":8.5,"v":0.74},{"o":11,"s":"k","d":9.3,"v":1.05},{"o":11,"s":"k","d":10.1,"v":1.36},{"o":11,"s":"k","d":10.7,"v":1.26},{"o":11,"s":"k","d":11.3,"v":1.26},{"o":11,"s":"k","d":11.9,"v":1.56},{"o":11,"s":"k","d":12.5,"v":1.62},{"o":11,"s":"k","d":12.9,"v":2.33},{"o":11,"s":"k","d":13.5,"v":3.23},{"o":11,"s":"k","d":13.9,"v":4.38},{"o":11,"s":"k","d":14.3,"v":5.1},{"o":11,"s":"k","d":14.7,"v":4.64},{"o":11,"s":"k","d":15.3,"v":3.36},{"o":11,"s":"k","d":15.9,"v":2.46},{"o":11,"s":"k","d":16.5,"v":1.82},{"o":11,"s":"k","d":17.3,"v":1.51},{"o":11,"s":"k","d":17.9,"v":1.44},{"o":11,"s":"k","d":18.5,"v":1.56},{"o":11,"s":"k","d":19.1,"v":2.08},{"o":11,"s":"k","d":19.7,"v":1.82},{"o":11,"s":"k","d":20.5,"v":1.1},{"o":11,"s":"k","d":21.3,"v":0.79},{"o":11,"s":"k","d":22.5,"v":0.41},{"o":11,"s":"k","d":24.5,"v":0.23},{"o":11,"s":"k","d":29.86,"v":0.15},
    {"o":11,"s":"b","d":0,"v":0.15},{"o":11,"s":"b","d":1.5,"v":0.15},{"o":11,"s":"b","d":2.5,"v":0.33},{"o":11,"s":"b","d":3.7,"v":0.59},{"o":11,"s":"b","d":5.1,"v":0.67},{"o":11,"s":"b","d":6.9,"v":0.49},{"o":11,"s":"b","d":8.5,"v":0.41},{"o":11,"s":"b","d":9.7,"v":0.67},{"o":11,"s":"b","d":10.9,"v":0.74},{"o":11,"s":"b","d":11.7,"v":0.79},{"o":11,"s":"b","d":11.94,"v":1.36},{"o":11,"s":"b","d":12.5,"v":1.82},{"o":11,"s":"b","d":12.9,"v":3.62},{"o":11,"s":"b","d":13.24,"v":5.87},{"o":11,"s":"b","d":13.6,"v":5.15},{"o":11,"s":"b","d":14.1,"v":2.97},{"o":11,"s":"b","d":14.7,"v":2.08},{"o":11,"s":"b","d":15.3,"v":1.36},{"o":11,"s":"b","d":16.1,"v":1.31},{"o":11,"s":"b","d":17.1,"v":1.69},{"o":11,"s":"b","d":17.7,"v":1.51},{"o":11,"s":"b","d":18.5,"v":1.36},{"o":11,"s":"b","d":19.5,"v":1.18},{"o":11,"s":"b","d":20.5,"v":0.92},{"o":11,"s":"b","d":22.5,"v":0.67},{"o":11,"s":"b","d":26.5,"v":0.49},{"o":11,"s":"b","d":29.86,"v":0.41},
    {"o":11,"s":"c","d":0,"v":0.1},{"o":11,"s":"c","d":1.5,"v":0.1},{"o":11,"s":"c","d":2.5,"v":0.28},{"o":11,"s":"c","d":3.9,"v":0.54},{"o":11,"s":"c","d":5.1,"v":0.49},{"o":11,"s":"c","d":8.1,"v":0.28},{"o":11,"s":"c","d":10.5,"v":0.41},{"o":11,"s":"c","d":11.3,"v":0.59},{"o":11,"s":"c","d":11.9,"v":1.31},{"o":11,"s":"c","d":12.5,"v":2.33},{"o":11,"s":"c","d":12.9,"v":3.36},{"o":11,"s":"c","d":13.24,"v":4.05},{"o":11,"s":"c","d":13.7,"v":3.62},{"o":11,"s":"c","d":14.3,"v":2.59},{"o":11,"s":"c","d":14.9,"v":1.82},{"o":11,"s":"c","d":15.7,"v":1.26},{"o":11,"s":"c","d":16.5,"v":1.18},{"o":11,"s":"c","d":17.3,"v":1.36},{"o":11,"s":"c","d":18.1,"v":1.18},{"o":11,"s":"c","d":19.5,"v":1.26},{"o":11,"s":"c","d":20.5,"v":1.05},{"o":11,"s":"c","d":22.5,"v":0.67},{"o":11,"s":"c","d":29.86,"v":0.28},

    {"o":12,"s":"k","d":0,"v":0.23},{"o":12,"s":"k","d":2.1,"v":0.23},{"o":12,"s":"k","d":2.7,"v":0.38},{"o":12,"s":"k","d":3.3,"v":0.95},{"o":12,"s":"k","d":3.9,"v":1.51},{"o":12,"s":"k","d":4.9,"v":1.59},{"o":12,"s":"k","d":5.7,"v":1.72},{"o":12,"s":"k","d":6.4,"v":2.1},{"o":12,"s":"k","d":7.1,"v":1.97},{"o":12,"s":"k","d":8.1,"v":1.72},{"o":12,"s":"k","d":9.3,"v":1.46},{"o":12,"s":"k","d":9.9,"v":1.72},{"o":12,"s":"k","d":10.5,"v":2.36},{"o":12,"s":"k","d":11.0,"v":2.69},{"o":12,"s":"k","d":11.7,"v":2.54},{"o":12,"s":"k","d":12.3,"v":2.87},{"o":12,"s":"k","d":12.9,"v":3.51},{"o":12,"s":"k","d":13.5,"v":4.54},{"o":12,"s":"k","d":14.1,"v":6.08},{"o":12,"s":"k","d":14.6,"v":7.62},{"o":12,"s":"k","d":15.0,"v":7.1},{"o":12,"s":"k","d":15.5,"v":5.56},{"o":12,"s":"k","d":16.1,"v":4.03},{"o":12,"s":"k","d":16.7,"v":3.51},{"o":12,"s":"k","d":17.5,"v":3.26},{"o":12,"s":"k","d":18.3,"v":2.49},{"o":12,"s":"k","d":18.9,"v":2.18},{"o":12,"s":"k","d":19.4,"v":2.62},{"o":12,"s":"k","d":19.7,"v":3.13},{"o":12,"s":"k","d":20.3,"v":2.62},{"o":12,"s":"k","d":20.9,"v":1.97},{"o":12,"s":"k","d":21.7,"v":1.21},{"o":12,"s":"k","d":22.9,"v":0.69},{"o":12,"s":"k","d":24.5,"v":0.38},{"o":12,"s":"k","d":29.86,"v":0.18},
    {"o":12,"s":"b","d":0,"v":0.31},{"o":12,"s":"b","d":2.1,"v":0.31},{"o":12,"s":"b","d":2.9,"v":0.69},{"o":12,"s":"b","d":3.7,"v":0.95},{"o":12,"s":"b","d":5.3,"v":1.13},{"o":12,"s":"b","d":6.5,"v":1.0},{"o":12,"s":"b","d":7.9,"v":0.82},{"o":12,"s":"b","d":9.3,"v":0.95},{"o":12,"s":"b","d":10.5,"v":1.33},{"o":12,"s":"b","d":11.5,"v":1.59},{"o":12,"s":"b","d":12.3,"v":2.23},{"o":12,"s":"b","d":12.9,"v":3.38},{"o":12,"s":"b","d":13.5,"v":4.79},{"o":12,"s":"b","d":14.1,"v":6.08},{"o":12,"s":"b","d":14.5,"v":6.26},{"o":12,"s":"b","d":14.9,"v":5.82},{"o":12,"s":"b","d":15.5,"v":4.79},{"o":12,"s":"b","d":16.1,"v":3.9},{"o":12,"s":"b","d":16.9,"v":3.38},{"o":12,"s":"b","d":17.9,"v":3.26},{"o":12,"s":"b","d":18.7,"v":3.13},{"o":12,"s":"b","d":19.3,"v":2.87},{"o":12,"s":"b","d":20.1,"v":2.36},{"o":12,"s":"b","d":20.9,"v":1.85},{"o":12,"s":"b","d":21.7,"v":1.33},{"o":12,"s":"b","d":23.5,"v":0.82},{"o":12,"s":"b","d":26.5,"v":0.56},{"o":12,"s":"b","d":29.86,"v":0.41},
    {"o":12,"s":"c","d":0,"v":0.23},{"o":12,"s":"c","d":2.5,"v":0.23},{"o":12,"s":"c","d":3.7,"v":0.82},{"o":12,"s":"c","d":5.3,"v":1.08},{"o":12,"s":"c","d":7.1,"v":0.69},{"o":12,"s":"c","d":8.5,"v":0.44},{"o":12,"s":"c","d":10.5,"v":0.56},{"o":12,"s":"c","d":11.3,"v":0.95},{"o":12,"s":"c","d":11.7,"v":1.59},{"o":12,"s":"c","d":12.5,"v":2.62},{"o":12,"s":"c","d":13.3,"v":4.28},{"o":12,"s":"c","d":13.9,"v":5.31},{"o":12,"s":"c","d":14.6,"v":6.21},{"o":12,"s":"c","d":15.1,"v":5.56},{"o":12,"s":"c","d":15.7,"v":4.28},{"o":12,"s":"c","d":16.2,"v":3.26},{"o":12,"s":"c","d":16.9,"v":2.62},{"o":12,"s":"c","d":17.5,"v":2.36},{"o":12,"s":"c","d":18.3,"v":2.49},{"o":12,"s":"c","d":19.1,"v":2.79},{"o":12,"s":"c","d":19.7,"v":2.62},{"o":12,"s":"c","d":20.5,"v":2.1},{"o":12,"s":"c","d":21.5,"v":1.46},{"o":12,"s":"c","d":23.5,"v":0.82},{"o":12,"s":"c","d":29.86,"v":0.41},

    {"o":13,"s":"k","d":0,"v":0.1},{"o":13,"s":"k","d":2.7,"v":0.1},{"o":13,"s":"k","d":3.1,"v":0.36},{"o":13,"s":"k","d":3.7,"v":0.82},{"o":13,"s":"k","d":4.5,"v":1.0},{"o":13,"s":"k","d":5.3,"v":1.38},{"o":13,"s":"k","d":5.9,"v":1.69},{"o":13,"s":"k","d":6.5,"v":1.59},{"o":13,"s":"k","d":7.1,"v":1.77},{"o":13,"s":"k","d":7.7,"v":2.15},{"o":13,"s":"k","d":8.5,"v":2.54},{"o":13,"s":"k","d":9.1,"v":2.28},{"o":13,"s":"k","d":9.9,"v":2.03},{"o":13,"s":"k","d":10.7,"v":1.9},{"o":13,"s":"k","d":11.3,"v":1.77},{"o":13,"s":"k","d":11.7,"v":2.15},{"o":13,"s":"k","d":12.3,"v":3.18},{"o":13,"s":"k","d":12.9,"v":3.56},{"o":13,"s":"k","d":13.5,"v":3.9},{"o":13,"s":"k","d":14.1,"v":3.95},{"o":13,"s":"k","d":14.5,"v":4.08},{"o":13,"s":"k","d":15.1,"v":4.72},{"o":13,"s":"k","d":15.6,"v":5.74},{"o":13,"s":"k","d":15.9,"v":7.03},{"o":13,"s":"k","d":16.1,"v":7.74},{"o":13,"s":"k","d":16.5,"v":7.54},{"o":13,"s":"k","d":16.9,"v":6.77},{"o":13,"s":"k","d":17.5,"v":5.23},{"o":13,"s":"k","d":18.1,"v":4.08},{"o":13,"s":"k","d":18.7,"v":3.44},{"o":13,"s":"k","d":19.3,"v":3.05},{"o":13,"s":"k","d":19.9,"v":2.62},{"o":13,"s":"k","d":20.5,"v":2.36},{"o":13,"s":"k","d":21.0,"v":2.67},{"o":13,"s":"k","d":21.5,"v":2.97},{"o":13,"s":"k","d":22.1,"v":2.67},{"o":13,"s":"k","d":22.9,"v":2.03},{"o":13,"s":"k","d":23.7,"v":1.38},{"o":13,"s":"k","d":24.5,"v":1.0},{"o":13,"s":"k","d":26.1,"v":0.56},{"o":13,"s":"k","d":27.5,"v":0.36},{"o":13,"s":"k","d":29.86,"v":0.15},
    {"o":13,"s":"b","d":0,"v":0.41},{"o":13,"s":"b","d":2.5,"v":0.41},{"o":13,"s":"b","d":2.9,"v":0.67},{"o":13,"s":"b","d":3.4,"v":1.38},{"o":13,"s":"b","d":4.1,"v":1.51},{"o":13,"s":"b","d":6.5,"v":1.44},{"o":13,"s":"b","d":8.5,"v":1.33},{"o":13,"s":"b","d":9.7,"v":1.44},{"o":13,"s":"b","d":11.5,"v":1.38},{"o":13,"s":"b","d":11.8,"v":1.69},{"o":13,"s":"b","d":12.5,"v":2.62},{"o":13,"s":"b","d":13.3,"v":2.92},{"o":13,"s":"b","d":14.1,"v":3.23},{"o":13,"s":"b","d":14.7,"v":3.69},{"o":13,"s":"b","d":15.3,"v":4.67},{"o":13,"s":"b","d":15.74,"v":5.87},
    {"o":13,"s":"b","g":2,"d":15.86,"v":6.21},{"o":13,"s":"b","g":2,"d":16.2,"v":6.9},{"o":13,"s":"b","g":2,"d":16.6,"v":7.21},{"o":13,"s":"b","g":2,"d":17.1,"v":7.1},{"o":13,"s":"b","g":2,"d":17.6,"v":6.38},{"o":13,"s":"b","g":2,"d":18.2,"v":5.62},{"o":13,"s":"b","g":2,"d":18.7,"v":5.03},
    {"o":13,"s":"b","g":3,"d":19.66,"v":4.08},{"o":13,"s":"b","g":3,"d":20.5,"v":3.74},{"o":13,"s":"b","g":3,"d":21.5,"v":3.38},{"o":13,"s":"b","g":3,"d":22.2,"v":2.92},
    {"o":13,"s":"b","g":4,"d":22.9,"v":2.41},{"o":13,"s":"b","g":4,"d":24.1,"v":1.9},{"o":13,"s":"b","g":4,"d":25.5,"v":1.51},{"o":13,"s":"b","g":4,"d":26.9,"v":1.21},{"o":13,"s":"b","g":4,"d":28.3,"v":1.0},
    {"o":13,"s":"c","d":0,"v":0.1},{"o":13,"s":"c","d":2.7,"v":0.1},{"o":13,"s":"c","d":3.1,"v":0.49},{"o":13,"s":"c","d":3.7,"v":1.13},{"o":13,"s":"c","d":4.3,"v":1.9},{"o":13,"s":"c","d":4.9,"v":1.64},{"o":13,"s":"c","d":5.4,"v":0.87},{"o":13,"s":"c","d":6.5,"v":0.82},{"o":13,"s":"c","d":8.5,"v":0.87},{"o":13,"s":"c","d":10.5,"v":0.87},{"o":13,"s":"c","d":12.1,"v":0.92},{"o":13,"s":"c","d":12.5,"v":1.26},{"o":13,"s":"c","d":13.3,"v":2.03},{"o":13,"s":"c","d":14.1,"v":2.54},{"o":13,"s":"c","d":14.9,"v":3.18},{"o":13,"s":"c","d":15.5,"v":3.95},{"o":13,"s":"c","d":16.1,"v":5.23},{"o":13,"s":"c","d":16.7,"v":6.26},{"o":13,"s":"c","d":17.1,"v":6.51},{"o":13,"s":"c","d":17.6,"v":6.0},{"o":13,"s":"c","d":18.2,"v":4.72},{"o":13,"s":"c","d":18.7,"v":3.44},{"o":13,"s":"c","d":19.3,"v":2.79},{"o":13,"s":"c","d":20.1,"v":2.54},{"o":13,"s":"c","d":20.9,"v":2.59},{"o":13,"s":"c","d":21.5,"v":2.72},{"o":13,"s":"c","d":22.1,"v":2.41},{"o":13,"s":"c","d":22.9,"v":1.9},{"o":13,"s":"c","d":23.9,"v":1.26},{"o":13,"s":"c","d":24.9,"v":0.87},{"o":13,"s":"c","d":26.5,"v":0.56},{"o":13,"s":"c","d":29.86,"v":0.36}
  ]},
  "facet": {"row": {"field": "o", "type": "ordinal", "sort": "ascending", "header": {"labels": false, "title": null}}},
  "spacing": {"row": 16.9},
  "spec": {
    "width": 1029,
    "height": 102,
    "layer": [
      {
        "transform": [{"filter": "datum.c != null"}],
        "mark": {"type": "rule", "color": "#b4b4b4", "strokeWidth": 1},
        "encoding": {"y": {"datum": 4, "type": "quantitative"}}
      },
      {
        "transform": [{"filter": "datum.c != null"}],
        "mark": {"type": "rule", "color": "#999999", "strokeWidth": 1},
        "encoding": {"y": {"datum": 7.9, "type": "quantitative"}}
      },
      {
        "transform": [{"filter": "datum.c != null"}],
        "mark": {"type": "rule", "color": "#555555", "strokeWidth": 1.2},
        "encoding": {"y": {"datum": 0, "type": "quantitative"}}
      },
      {
        "transform": [{"filter": "datum.c != null"}],
        "mark": {"type": "rule", "color": "#ff1a1a", "strokeWidth": 1.6},
        "encoding": {"y": {"datum": 1, "type": "quantitative"}}
      },
      {
        "transform": [{"filter": "datum.c != null"}],
        "mark": {"type": "rect", "color": "#d9d9d9"},
        "encoding": {
          "x": {"datum": 23.7, "type": "quantitative"},
          "x2": {"datum": 29.65},
          "y": {"datum": 7.6, "type": "quantitative"},
          "y2": {"datum": 4.62}
        }
      },
      {
        "transform": [{"filter": "datum.c != null"}],
        "mark": {"type": "text", "align": "left", "baseline": "alphabetic", "font": "Lato", "fontWeight": "bold", "fontSize": 25, "color": "#1a1a1a"},
        "encoding": {
          "x": {"datum": 23.92, "type": "quantitative"},
          "y": {"datum": 5.22, "type": "quantitative"},
          "text": {"field": "c"}
        }
      },
      {
        "transform": [{"filter": "datum.c != null"}],
        "mark": {"type": "text", "align": "left", "baseline": "alphabetic", "font": "DejaVu Sans", "fontWeight": "bold", "fontSize": 18, "color": "#111111"},
        "encoding": {
          "x": {"datum": 1.02, "type": "quantitative"},
          "y": {"datum": 5.68, "type": "quantitative"},
          "text": {"field": "a"}
        }
      },
      {
        "transform": [{"filter": "datum.s == 'b'"}],
        "mark": {"type": "line", "color": "#1212dc", "strokeWidth": 3.4, "clip": true, "interpolate": "monotone", "strokeJoin": "round", "strokeCap": "round"},
        "encoding": {
          "x": {"field": "d", "type": "quantitative", "scale": {"domain": [0, 29.83], "nice": false, "zero": false},
            "axis": {"values": [0, 7, 14, 21, 28], "labelExpr": "['28-May','04-Jun','11-Jun','18-Jun','25-Jun'][round(datum.value/7)]", "title": null, "grid": true, "gridColor": "#a8a8a8", "gridWidth": 1, "domain": false, "tickSize": -5, "tickColor": "#666666", "labelFont": "DejaVu Sans", "labelFontWeight": "bold", "labelFontSize": 19, "labelColor": "#111111", "labelPadding": 15.5, "labelFlush": false, "labelOverlap": false}},
          "y": {"field": "v", "type": "quantitative", "scale": {"domain": [0, 7.9], "nice": false, "zero": false},
            "axis": {"values": [1, 2.5, 4, 5.5, 7], "labelExpr": "datum.value == 1 || datum.value == 4 ? datum.label : ''", "title": null, "grid": false, "domain": true, "domainColor": "#999999", "tickSize": -5, "tickColor": "#777777", "labelFont": "DejaVu Sans", "labelFontWeight": "bold", "labelFontSize": 21, "labelColor": "#111111", "labelPadding": 7, "labelBaseline": "middle", "labelOverlap": false}},
          "detail": {"field": "g"}
        }
      },
      {
        "transform": [{"filter": "datum.s == 'k'"}],
        "mark": {"type": "line", "color": "#282828", "strokeWidth": 5, "clip": true, "interpolate": "monotone", "strokeJoin": "round", "strokeCap": "round"},
        "encoding": {
          "x": {"field": "d", "type": "quantitative"},
          "y": {"field": "v", "type": "quantitative"}
        }
      },
      {
        "transform": [{"filter": "datum.s == 'c'"}],
        "mark": {"type": "line", "color": "#38e2ea", "strokeWidth": 2.5, "clip": true, "interpolate": "monotone", "strokeJoin": "round", "strokeCap": "round"},
        "encoding": {
          "x": {"field": "d", "type": "quantitative"},
          "y": {"field": "v", "type": "quantitative"}
        }
      }
    ]
  },
  "config": {"view": {"stroke": null}}
}
